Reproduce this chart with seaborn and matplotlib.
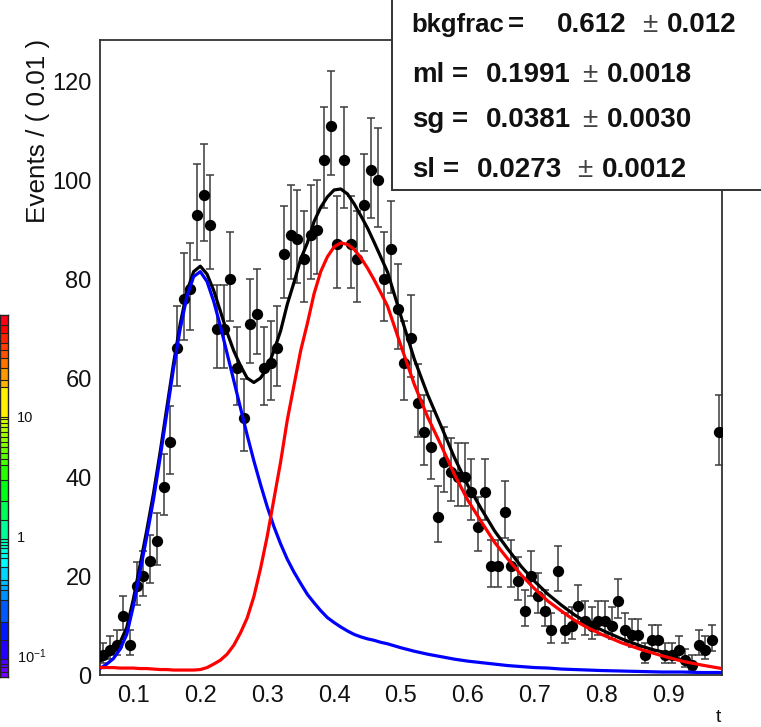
import numpy as np
import pandas as pd
import matplotlib
matplotlib.use("Agg")
import matplotlib.pyplot as plt
import seaborn as sns
from matplotlib.patches import Rectangle
from matplotlib.ticker import MultipleLocator, FixedLocator, FormatStrFormatter

# ---------------- data ----------------
bin_low = 0.05
bin_width = 0.01
counts = [4, 5, 6, 12, 6, 18, 20, 23, 27, 38,
          47, 66, 76, 78, 93, 97, 91, 70, 70, 80,
          62, 52, 71, 73, 62, 63, 66, 85, 89, 88,
          84, 89, 90, 104, 111, 87, 104, 87, 84, 95,
          102, 100, 80, 86, 74, 63, 68, 55, 49, 46,
          32, 43, 41, 40, 40, 37, 30, 37, 22, 22,
          33, 22, 19, 13, 20, 16, 13, 9, 21, 9,
          10, 14, 11, 10, 11, 11, 10, 15, 9, 8,
          8, 4, 7, 7, 4, 4, 5, 3, 2, 6,
          5, 7, 49]

curve_t = [0.05, 0.06, 0.07, 0.08, 0.09, 0.10, 0.11, 0.12, 0.13, 0.14,
           0.15, 0.16, 0.17, 0.18, 0.19, 0.20, 0.21, 0.22, 0.23, 0.24,
           0.25, 0.26, 0.27, 0.28, 0.29, 0.30, 0.31, 0.32, 0.33, 0.34,
           0.35, 0.36, 0.37, 0.38, 0.39, 0.40, 0.41, 0.42, 0.43, 0.44,
           0.45, 0.46, 0.47, 0.48, 0.50, 0.52, 0.54, 0.56, 0.58, 0.60,
           0.62, 0.64, 0.66, 0.68, 0.70, 0.72, 0.74, 0.76, 0.78, 0.80,
           0.83, 0.86, 0.89, 0.92, 0.95, 0.98]
blue_curve = [1.3, 2.2, 3.3, 5.2, 8.2, 14, 21, 28, 35.5, 44,
              53, 62, 70, 76.5, 80.5, 81.5, 79.5, 75.5, 70.5, 65,
              59.5, 54, 48.5, 43.3, 38.5, 34, 30, 26.5, 23.4, 20.8,
              18.5, 16.3, 14.6, 13, 11.6, 10.6, 9.7, 8.9, 8.2, 7.7,
              7.3, 7.0, 6.6, 6.3, 5.5, 4.8, 4.2, 3.7, 3.2, 2.8,
              2.5, 2.2, 1.9, 1.7, 1.5, 1.4, 1.2, 1.1, 1.0, 0.9,
              0.8, 0.7, 0.6, 0.6, 0.5, 0.5]
red_curve = [1.5, 1.5, 1.5, 1.4, 1.4, 1.4, 1.3, 1.3, 1.2, 1.1,
             1.1, 1.0, 1.0, 1.0, 1.0, 1.1, 1.5, 2.2, 3.0, 4.2,
             6.0, 8.5, 11.5, 15.8, 21.5, 28, 35.5, 43, 51.5, 58.5,
             65.5, 71, 77, 81.5, 84.5, 86.5, 87.3, 87, 86, 84.3,
             82.2, 79.8, 77.2, 74.5, 66.5, 58.7, 52.1, 46.4, 40.5, 35.3,
             31, 26.8, 23.4, 20.2, 17.4, 14.9, 12.9, 11, 9.5, 8.2,
             6.5, 5.1, 3.9, 2.8, 2.0, 1.3]

black_t = [0.05, 0.06, 0.07, 0.08, 0.09, 0.10, 0.11, 0.12, 0.13, 0.14,
           0.15, 0.16, 0.17, 0.18, 0.19, 0.20, 0.21, 0.22, 0.23, 0.24,
           0.25, 0.26, 0.27, 0.28, 0.29, 0.30, 0.31, 0.32, 0.33, 0.34,
           0.35, 0.36, 0.37, 0.38, 0.39, 0.40, 0.41, 0.42, 0.43, 0.44,
           0.45, 0.46, 0.47, 0.48, 0.50, 0.52, 0.54, 0.56, 0.58, 0.60,
           0.62, 0.64, 0.66, 0.68, 0.70, 0.72, 0.74, 0.76, 0.78, 0.80,
           0.83, 0.86, 0.88, 0.90, 0.92, 0.94]
black_curve = [2.8, 3.7, 4.8, 6.6, 9.6, 15.4, 22.3, 29.3, 36.7, 45.1,
               54.1, 63, 71, 77.5, 81.5, 82.6, 81, 77.7, 73.5, 69.2,
               65.5, 62.5, 60, 59.1, 60, 62, 65.5, 69.5, 74.9, 79.3,
               84, 87.3, 91.6, 94.5, 96.6, 98, 98.2, 97.2, 95.2, 92.8,
               90.3, 87.4, 84.4, 81.4, 72.5, 63.8, 56.6, 50.3, 43.9, 38.3,
               33.6, 29.1, 25.4, 21.9, 18.9, 16.3, 14.1, 12.1, 10.5, 9.1,
               7.3, 5.8, 5.0, 4.4, 2.8, 1.3]

x_tick_values = [0.1, 0.2, 0.3, 0.4, 0.5, 0.6, 0.7, 0.8, 0.9]
y_tick_values = [0, 20, 40, 60, 80, 100, 120]

param_names = ["bkgfrac", "ml", "sg", "sl"]
param_values = ["0.612", "0.1991", "0.0381", "0.0273"]
param_errors = ["0.012", "0.0018", "0.0030", "0.0012"]

# colour-scale fragment on the left (log10 of contour boundaries)
palette_levels = [1.862, 1.778, 1.709, 1.625, 1.569, 1.5, 1.416, 1.318, 1.257,
                  1.011, 0.989, 0.961, 0.927, 0.885, 0.844, 0.802, 0.760, 0.704,
                  0.654, 0.607, 0.481, 0.308, 0.146, -0.007, -0.035, -0.063,
                  -0.090, -0.132, -0.174, -0.244, -0.356, -0.397, -0.439,
                  -0.523, -0.705, -0.858, -1.011, -1.053, -1.081, -1.123, -1.165]
palette_labels = ["10", "1", r"$\mathregular{10^{-1}}$"]
palette_label_values = [1, 0, -1]

# ---------------- style ----------------
sns.set_style("white")
plt.rcParams["font.family"] = ["Liberation Sans", "DejaVu Sans"]
plt.rcParams["mathtext.fontset"] = "custom"
plt.rcParams["mathtext.rm"] = "Liberation Sans"

W, H = 761, 727
fig = plt.figure(figsize=(W / 100, H / 100), dpi=100)
fig.patch.set_facecolor("white")

ax = fig.add_axes([100 / W, 1 - 675 / H, 622 / W, 635 / H])

centers = np.round(bin_low + bin_width * (np.arange(len(counts)) + 0.5), 4)
n = np.array(counts, dtype=float)
err_lo = np.sqrt(n + 0.25) - 0.5
err_hi = np.sqrt(n + 0.25) + 0.5
df = pd.DataFrame({"t": centers, "n": n})

ax.errorbar(df["t"], df["n"], yerr=[err_lo, err_hi], fmt="none",
            ecolor="#3c3c3c", elinewidth=1.1, capsize=3.2, capthick=1.1, zorder=2)
sns.scatterplot(data=df, x="t", y="n", color="black", s=66, linewidth=0,
                ax=ax, zorder=3, legend=False)

sns.lineplot(x=black_t, y=black_curve, color="black", linewidth=2.3, ax=ax,
             zorder=4, sort=False)
sns.lineplot(x=curve_t, y=blue_curve, color="#0000ff", linewidth=2.3, ax=ax,
             zorder=5, sort=False)
sns.lineplot(x=curve_t, y=red_curve, color="#ff0000", linewidth=2.3, ax=ax,
             zorder=6, sort=False)

ax.set_xlim(0.05, 0.98)
ax.set_ylim(0, 128.3)
ax.xaxis.set_major_locator(FixedLocator(x_tick_values))
ax.xaxis.set_major_formatter(FormatStrFormatter("%.1f"))
ax.xaxis.set_minor_locator(MultipleLocator(0.02))
ax.yaxis.set_major_locator(FixedLocator(y_tick_values))
ax.yaxis.set_minor_locator(MultipleLocator(5))
ax.tick_params(axis="both", which="major", direction="in", length=13.5, width=1.0,
               color="#333333", labelsize=17, labelcolor="#111111")
ax.tick_params(axis="both", which="minor", direction="in", length=6.8, width=1.0,
               color="#333333")
ax.tick_params(axis="y", which="major", pad=6)
ax.tick_params(axis="x", which="major", pad=7)
ax.tick_params(top=False, right=False, which="both")
ax.set_xlabel("")
ax.set_ylabel("")
for s in ax.spines.values():
    s.set_visible(True)
    s.set_color("#333333")
    s.set_linewidth(1.3)

fig.text(38 / W, 1 - 39 / H, "Events / ( 0.01 )", rotation=90, ha="center",
         va="top", fontsize=18.8, color="#111111")
fig.text(718 / W, 1 - 717 / H, "t", ha="center", va="center", fontsize=14,
         color="#111111")

# ---------------- stats box ----------------
box = Rectangle((392 / W, 1 - 190 / H), 1.0, 1.0, transform=fig.transFigure,
                facecolor="white", edgecolor="#333333", linewidth=1.4, zorder=10,
                clip_on=False)
fig.add_artist(box)
label_x = 411.7
name_size = [18.5, 20, 20, 20]
eq_x = [508.3, 451.7, 451.7, 443.3]
val_x = [556.7, 486, 486, 476.7]
pm_x = [641.7, 581.7, 581.7, 576.7]
err_x = [666.7, 606.7, 606.7, 601.7]
baselines = [31.7, 81.7, 126.7, 176.7]
for i in range(4):
    yb = 1 - baselines[i] / H
    fig.text(label_x / W, yb, param_names[i], fontsize=name_size[i],
             fontweight="bold", va="baseline", ha="left", zorder=11, color="#111111")
    fig.text(eq_x[i] / W, yb, "=", fontsize=20, fontweight="bold",
             va="baseline", ha="left", zorder=11, color="#111111")
    fig.text(val_x[i] / W, yb, param_values[i], fontsize=20, fontweight="bold",
             va="baseline", ha="left", zorder=11, color="#111111")
    fig.text(pm_x[i] / W, yb, "\u00b1", fontsize=20, fontweight="normal",
             va="baseline", ha="left", zorder=11, color="#444444")
    fig.text(err_x[i] / W, yb, param_errors[i], fontsize=20, fontweight="bold",
             va="baseline", ha="left", zorder=11, color="#111111")

# ---------------- colour-scale fragment ----------------
cax = fig.add_axes([0, 1 - 677 / H, 8 / W, 362 / H])
cmap = plt.get_cmap("gist_rainbow")
top, bot = palette_levels[0], palette_levels[-1]
for hi, lo in zip(palette_levels[:-1], palette_levels[1:]):
    mid = 0.5 * (hi + lo)
    frac = (top - mid) / (top - bot) * 0.86
    cax.axhspan(lo, hi, color=cmap(frac), linewidth=0)
for lv in palette_levels[1:-1]:
    cax.axhline(lv, color="#222222", linewidth=0.8)
cax.set_ylim(bot, top)
cax.set_xlim(0, 1)
cax.set_xticks([])
cax.set_yticks([])
for s in cax.spines.values():
    s.set_color("#222222")
    s.set_linewidth(1.0)
for lab, v in zip(palette_labels, palette_label_values):
    py = 418 + (1 - v) * 119.5
    fig.text(17 / W, 1 - py / H, lab, ha="left", va="center", fontsize=10.5,
             color="#111111")

fig.savefig("out.png", dpi=100)
